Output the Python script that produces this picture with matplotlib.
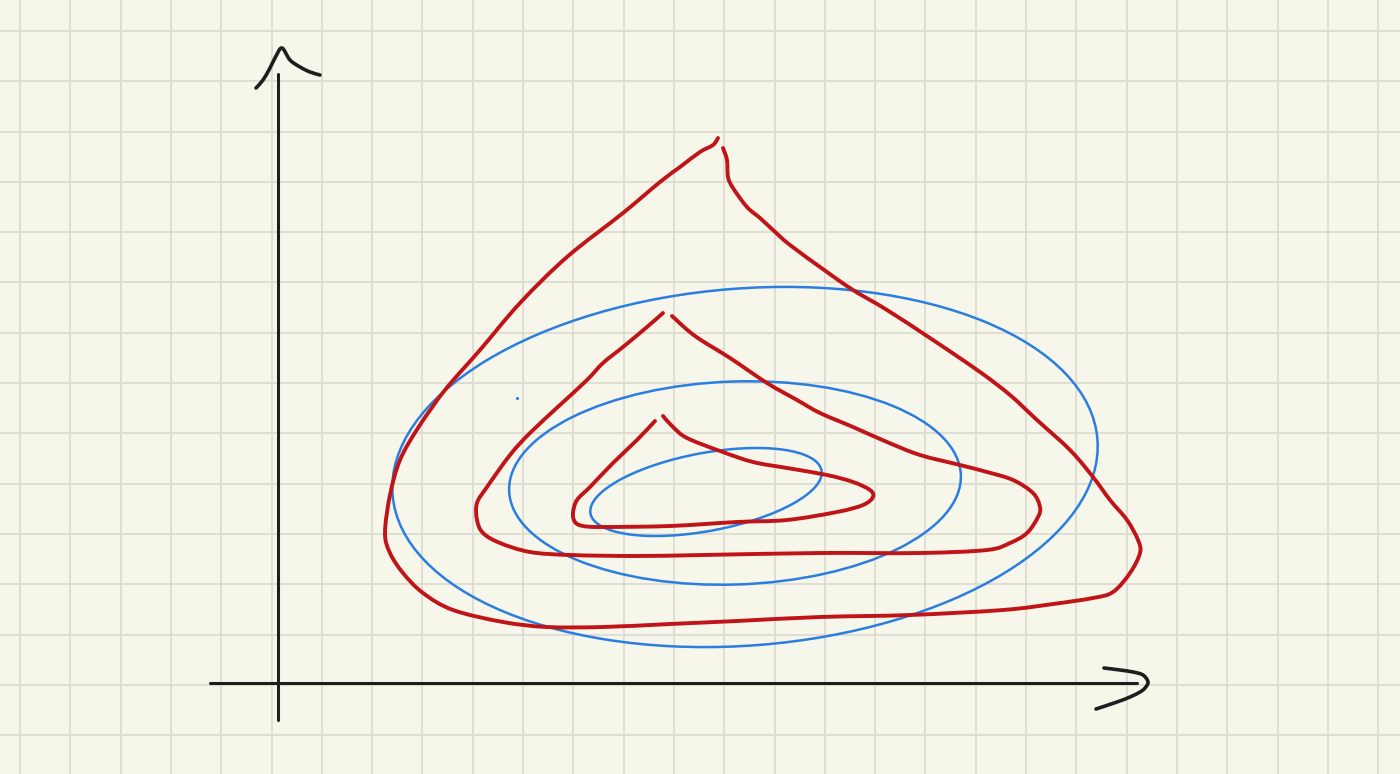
import numpy as np
import matplotlib
matplotlib.use("Agg")
import matplotlib.pyplot as plt
from matplotlib.patches import Ellipse, PathPatch
from matplotlib.path import Path

# ---- data (pixel-space sketch coordinates) ----
red_outer_x = [718, 713, 700, 680, 660, 623, 567, 520, 480, 445, 418, 400, 390, 385, 390, 403, 423, 453, 503,
               547, 603, 670, 737, 820, 910, 1003, 1053, 1093, 1113, 1130, 1140, 1138, 1127, 1110, 1093, 1070, 1037,
               1010, 980, 933, 887, 853, 827, 790, 773, 760, 747, 733, 728, 727, 723]
red_outer_y = [138, 145, 152, 167, 182, 213, 257, 303, 350, 390, 428, 460, 495, 533, 553, 573, 593, 610, 622,
               627, 627, 624, 621, 617, 615, 610, 604, 598, 592, 573, 553, 540, 520, 500, 477, 450, 420,
               395, 372, 340, 310, 290, 272, 245, 230, 218, 207, 188, 177, 160, 148]

red_mid_x = [663, 647, 623, 603, 587, 560, 530, 510, 487, 477, 477, 483, 500, 530, 570, 637, 703, 820, 920,
             987, 1010, 1027, 1038, 1040, 1033, 1013, 987, 960, 920, 887, 853, 820, 797, 767, 730, 695, 672]
red_mid_y = [313, 327, 347, 363, 380, 405, 433, 455, 487, 503, 520, 533, 543, 552, 555, 556, 555, 553, 553,
             550, 543, 533, 517, 507, 493, 480, 472, 465, 455, 442, 427, 413, 400, 383, 358, 336, 316]

red_inner_x = [655, 637, 613, 590, 577, 573, 575, 583, 603, 670, 737, 787, 837, 863, 873, 870, 853, 827, 787, 753,
               720, 687, 673, 663]
red_inner_y = [421, 440, 463, 487, 500, 513, 522, 526, 527, 526, 522, 520, 512, 505, 497, 490, 482, 475, 468, 462,
               451, 438, 427, 416]

blue_cx = [745, 735, 706]
blue_cy = [467, 483, 492]
blue_w = [707, 452, 235]
blue_h = [357, 203, 78]
blue_angle = [-4.5, -2.0, -10.6]

yaxis_x = [278, 278]
yaxis_y = [74, 720]
xaxis_x = [210, 1137]
xaxis_y = [683, 683]
yarrow_x = [256, 263, 270, 276, 282, 290, 300, 310, 320]
yarrow_y = [88, 80, 68, 56, 48, 60, 67, 72, 75]
xarrow_x = [1104, 1120, 1133, 1143, 1148, 1145, 1140, 1130, 1117, 1096]
xarrow_y = [668, 670, 672, 675, 682, 688, 692, 697, 702, 709]

dot_x = [517]
dot_y = [398]

# ---- styles ----
BG = "#f6f6ea"
GRID = "#dddcd0"
RED = "#c01418"
BLUE = "#2a7ee0"
INK = "#1e1e1e"


def smooth_path(xs, ys):
    """Catmull-Rom through the given points expressed as cubic Bezier path segments."""
    p = np.column_stack([xs, ys]).astype(float)
    n = len(p)
    verts = [p[0]]
    codes = [Path.MOVETO]
    for i in range(n - 1):
        p0 = p[i - 1] if i > 0 else p[i]
        p1, p2 = p[i], p[i + 1]
        p3 = p[i + 2] if i + 2 < n else p[i + 1]
        c1 = p1 + (p2 - p0) / 6.0
        c2 = p2 - (p3 - p1) / 6.0
        verts += [c1, c2, p2]
        codes += [Path.CURVE4] * 3
    return Path(verts, codes)


def stroke(ax, xs, ys, color, lw, z):
    ax.add_patch(PathPatch(smooth_path(xs, ys), fill=False, edgecolor=color, lw=lw,
                           capstyle="round", joinstyle="round", zorder=z))


fig = plt.figure(figsize=(14, 7.74), dpi=100)
fig.patch.set_facecolor(BG)
ax = fig.add_axes([0, 0, 1, 1])
ax.set_facecolor(BG)
ax.set_xlim(0, 1400)
ax.set_ylim(774, 0)

# grid paper
for gx in np.arange(20, 1400, 50.3):
    ax.axvline(gx, color=GRID, lw=1.3, zorder=0)
for gy in np.arange(31 - 50.3, 774, 50.3):
    ax.axhline(gy, color=GRID, lw=1.3, zorder=0)

# axes drawn by hand
ax.plot(yaxis_x, yaxis_y, color=INK, lw=2.2, solid_capstyle="round", zorder=3)
ax.plot(xaxis_x, xaxis_y, color=INK, lw=2.2, solid_capstyle="round", zorder=3)
stroke(ax, yarrow_x, yarrow_y, INK, 2.6, 3)
stroke(ax, xarrow_x, xarrow_y, INK, 2.6, 3)

# blue ellipses
for cx, cy, w, h, a in zip(blue_cx, blue_cy, blue_w, blue_h, blue_angle):
    ax.add_patch(Ellipse((cx, cy), w, h, angle=a, fill=False, edgecolor=BLUE, lw=1.8, zorder=2))

# red teardrops
for xs, ys in [(red_outer_x, red_outer_y), (red_mid_x, red_mid_y), (red_inner_x, red_inner_y)]:
    stroke(ax, xs, ys, RED, 2.8, 4)

ax.plot(dot_x, dot_y, "o", color=BLUE, ms=1.2, zorder=2)

ax.set_xticks([])
ax.set_yticks([])
for s in ax.spines.values():
    s.set_visible(False)

fig.savefig("out.png", dpi=100, facecolor=BG)
